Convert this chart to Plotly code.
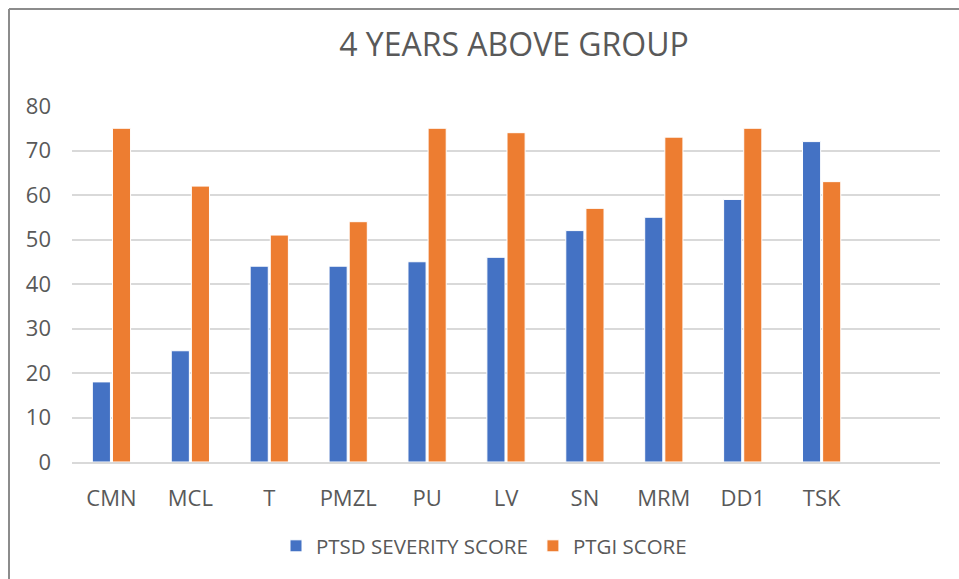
import plotly.graph_objects as go

categories = ["CMN", "MCL", "T", "PMZL", "PU", "LV", "SN", "MRM", "DD1", "TSK"]
ptsd = [18, 25, 44, 44, 45, 46, 52, 55, 59, 72]
ptgi = [75, 62, 51, 54, 75, 74, 57, 73, 75, 63]
y_ticks = [0, 10, 20, 30, 40, 50, 60, 70, 80]

FONT = "Open Sans"
GRAY = "#595959"

fig = go.Figure()
fig.add_trace(go.Bar(x=categories, y=ptsd, name="PTSD SEVERITY SCORE",
                     marker=dict(color="#4472C4", line=dict(color="white", width=1))))
fig.add_trace(go.Bar(x=categories, y=ptgi, name="PTGI SCORE",
                     marker=dict(color="#ED7D31", line=dict(color="white", width=1))))

fig.update_layout(
    width=959, height=579,
    margin=dict(l=72, r=19, t=106, b=117, autoexpand=False),
    paper_bgcolor="white", plot_bgcolor="white",
    barmode="group", bargap=0.49, bargroupgap=0.1,
    title=dict(text="4 YEARS ABOVE GROUP", x=(514 - 72) / 868, xanchor="center", xref="paper",
               y=1 - 45 / 579, yref="container", yanchor="middle",
               font=dict(family=FONT, size=32, color=GRAY)),
    font=dict(family=FONT, color=GRAY),
    legend=dict(orientation="h", x=0.5 - 22 / 868, xanchor="center", xref="paper",
                y=1 - 546 / 579, yref="container", yanchor="middle",
                font=dict(family=FONT, size=20.5, color=GRAY),
                itemwidth=30, traceorder="normal"),
    showlegend=True,
)
fig.update_xaxes(type="category", range=[-0.5, 10.5], showgrid=False,
                 showline=True, linecolor="#d9d9d9", linewidth=1.5,
                 ticks="", ticklabelstandoff=16, automargin=False,
                 tickfont=dict(family=FONT, size=22, color=GRAY))
fig.update_yaxes(range=[0, 80], tickvals=y_ticks, showgrid=True, gridcolor="#d9d9d9",
                 gridwidth=1.5, zeroline=False, showline=False, ticks="",
                 ticklabelstandoff=20, automargin=False,
                 tickfont=dict(family=FONT, size=22, color=GRAY))

x_border = (9 - 72) / 868
y_border = (462 - 9) / 356
fig.add_shape(type="line", xref="paper", yref="paper", x0=x_border, x1=x_border,
              y0=-1.0, y1=y_border, line=dict(color="#8c8c8c", width=2))
fig.add_shape(type="line", xref="paper", yref="paper", x0=x_border, x1=1.2,
              y0=y_border, y1=y_border, line=dict(color="#8c8c8c", width=2))

fig.write_html("out.html", config={"displayModeBar": False},
               post_script="document.body.style.margin='0';document.body.style.overflow='hidden';")
